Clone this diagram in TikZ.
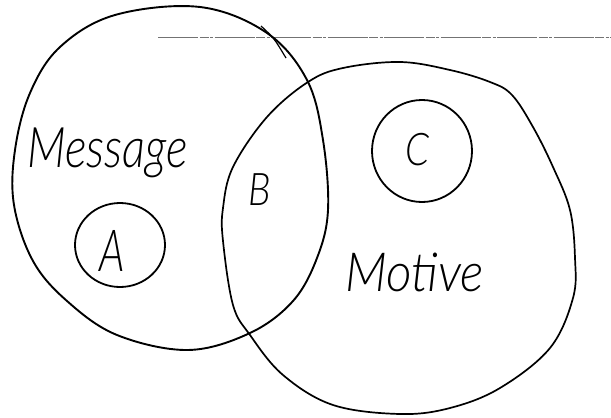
\documentclass[tikz,border=0pt]{standalone}
\usepackage{fontspec}
\newfontfamily\hand{Lato Light Italic}
\begin{document}
\begin{tikzpicture}[x=1pt,y=-1pt,
  setline/.style={line width=1.9pt, line join=round},
  inner/.style={line width=1.8pt},
  word/.style={font=\hand, inner sep=0pt, anchor=base west},
  guide/.style={black!55, line width=0.8pt, dash pattern=on 40pt off 1.5pt on 9pt off 1.5pt on 3pt off 1.5pt}]
\useasboundingbox (0,0) rectangle (611,418);
% faint ruled line
\coordinate (g1) at (158,37);
\coordinate (g2) at (611,37);
\draw[guide] (g1) -- (g2);
% Message set
\draw[setline] plot[smooth cycle, tension=0.6] coordinates {
 (200,7) (267,33) (307,80) (323,140) (328,210) (317,258) (293,301) (250,333)
 (188,350) (117,335) (67,301) (33,261) (14,205) (15,150) (30,93) (60,47) (115,15)};
\draw[line width=1.2pt] (261,26) .. controls (274,38) .. (286,58);
% Motive set
\draw[line width=1.7pt, line join=round] plot[smooth cycle, tension=0.6] coordinates {
 (343,68) (400,62) (450,70) (490,82) (512,95) (533,127) (553,167) (570,210)
 (575,258) (573,298) (550,348) (500,388) (450,408) (400,414) (333,405)
 (283,375) (250,335) (233,305) (223,241) (223,208) (233,167) (267,117) (308,82)};
% inner circles
\draw[inner] (120,245) ellipse [x radius=45, y radius=42];
\draw[inner] (422,151) ellipse [x radius=50, y radius=51];
% labels
\node[word, font=\hand\fontsize{56}{56}\selectfont, xscale=0.82] (msg) at (27,167) {Message};
\node[word, font=\hand\fontsize{54}{54}\selectfont, xscale=0.92] (mot) at (345,291) {Motive};
\node[word, font=\hand\fontsize{58}{58}\selectfont, xscale=0.72] (a) at (99,271) {A};
\node[word, font=\hand\fontsize{45}{45}\selectfont, xscale=0.85] (b) at (248,205) {B};
\node[word, font=\hand\fontsize{45}{45}\selectfont, xscale=0.85] (c) at (405,165) {C};
\end{tikzpicture}
\end{document}
